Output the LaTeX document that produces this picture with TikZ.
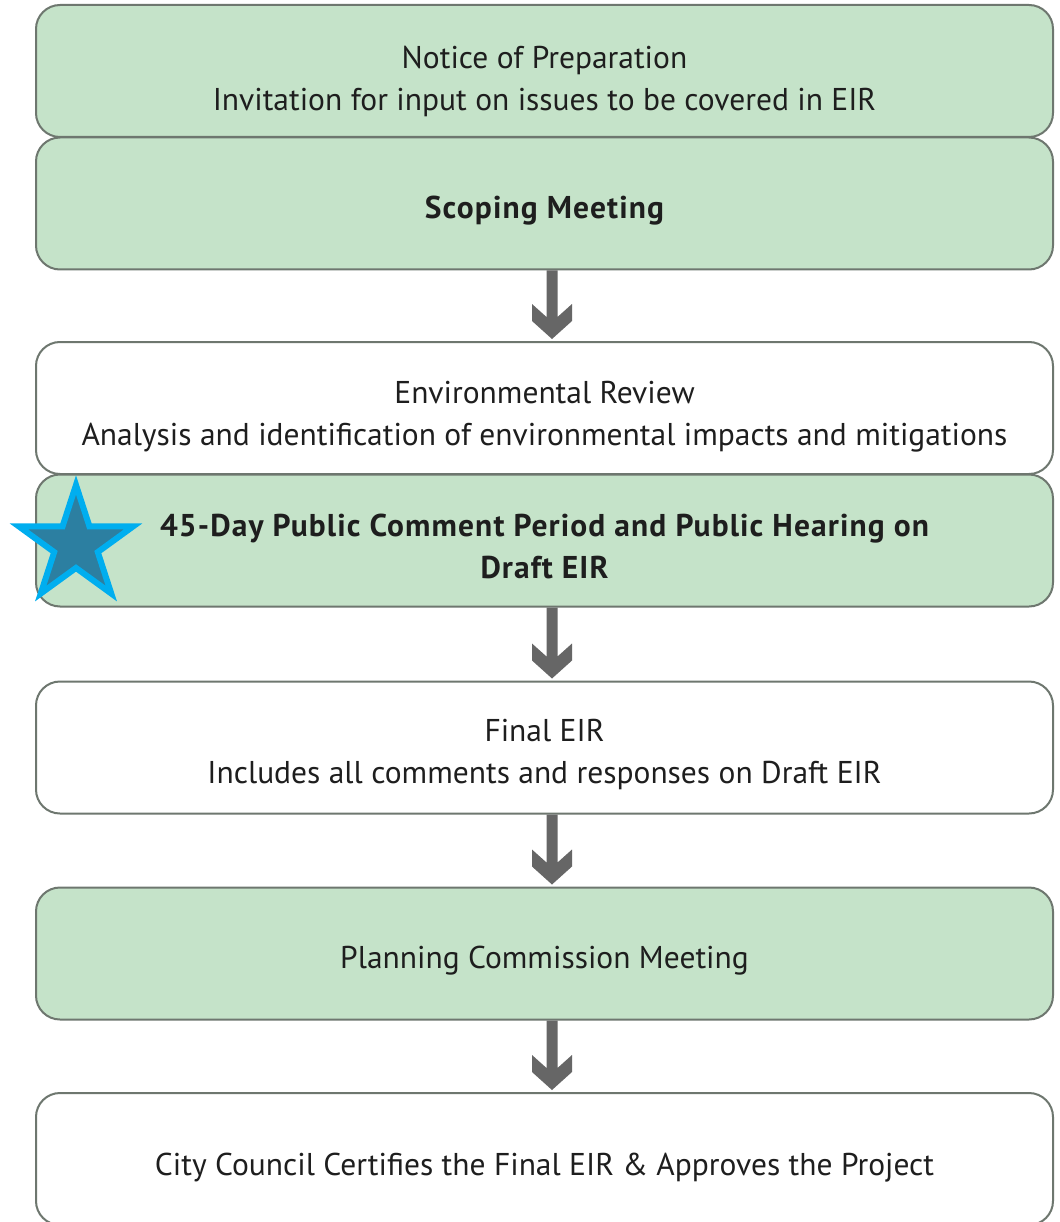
\documentclass[tikz,border=0pt]{standalone}
\usepackage{fontspec}
\setmainfont{PT Sans}[BoldFeatures={LetterSpace=3.5}]
\usetikzlibrary{calc,shapes.geometric,shadows}
\definecolor{boxgreen}{HTML}{C5E3C9}
\definecolor{boxline}{HTML}{6E776F}
\definecolor{arrowgrey}{HTML}{666666}
\definecolor{starfill}{HTML}{2C7FA1}
\definecolor{starline}{HTML}{00AEEF}
\definecolor{txt}{HTML}{1E1E1E}
\tikzset{
  stepbox/.style={draw=boxline, line width=2pt, rounded corners=24pt,
    minimum width=1017pt, minimum height=132pt, inner sep=0pt, align=center,
    text=txt, font=\fontsize{31.5}{42}\selectfont},
  greenbox/.style={stepbox, fill=boxgreen},
  whitebox/.style={stepbox, fill=white},
  arrowfill/.style={fill=arrowgrey}
}
\newcommand{\tstrut}[1]{\rule{0pt}{#1pt}}
\newcommand{\bstrut}{\rule[-10pt]{0pt}{10pt}}
\newcommand{\flowarrow}[2]{%
  \fill[arrowfill] ($(#1)+(-5.5,0)$) -- ($(#2)+(-5.5,-22)$) -- ($(#2)+(-20,-35)$)
    -- ($(#2)+(-20,-18)$) -- (#2) -- ($(#2)+(20,-18)$) -- ($(#2)+(20,-35)$)
    -- ($(#2)+(5.5,-22)$) -- ($(#1)+(5.5,0)$) -- cycle;}
\begin{document}
\begin{tikzpicture}[x=1pt,y=-1pt]
\useasboundingbox (0,0) rectangle (1059,1222);
\fill[white] (0,0) rectangle (1059,1222);
\node[greenbox] (n1) at (544.5,71) {\tstrut{48}Notice of Preparation\\Invitation for input on issues to be covered in EIR\bstrut};
\node[greenbox] (n2) at (544.5,203.5) {\tstrut{40}\bfseries Scoping Meeting\bstrut};
\node[whitebox] (n3) at (544.5,408) {\tstrut{42}Environmental Review\\Analysis and identification of environmental impacts and mitigations\bstrut};
\node[greenbox] (n4) at (544.5,540.5) {\tstrut{43}\bfseries 45-Day Public Comment Period and Public Hearing on\\\bfseries Draft EIR\bstrut};
\node[whitebox] (n5) at (544.5,747.5) {\tstrut{40}Final EIR\\Includes all comments and responses on Draft EIR\bstrut};
\node[greenbox] (n6) at (544.5,953.5) {\tstrut{40}Planning Commission Meeting\bstrut};
\node[whitebox] (n7) at (544.5,1159) {\tstrut{43}City Council Certifies the Final EIR \& Approves the Project\bstrut};
\coordinate (a2) at ($(n2.south)+(7.5,0)$);
\coordinate (b3) at ($(n3.north)+(7.5,-2)$);
\coordinate (a4) at ($(n4.south)+(7.5,0)$);
\coordinate (b5) at ($(n5.north)+(7.5,-2)$);
\coordinate (a5) at ($(n5.south)+(7.5,0)$);
\coordinate (b6) at ($(n6.north)+(7.5,-2)$);
\coordinate (a6) at ($(n6.south)+(7.5,0)$);
\coordinate (b7) at ($(n7.north)+(7.5,-2)$);
\flowarrow{a2}{b3}
\flowarrow{a4}{b5}
\flowarrow{a5}{b6}
\flowarrow{a6}{b7}
\node[star, star points=5, star point ratio=2.618, minimum size=120pt, inner sep=0pt,
  fill=starfill, draw=starline, line width=6pt,
  drop shadow={shadow xshift=2pt, shadow yshift=2pt, opacity=0.25}] (star) at (76,545) {};
\end{tikzpicture}
\end{document}
